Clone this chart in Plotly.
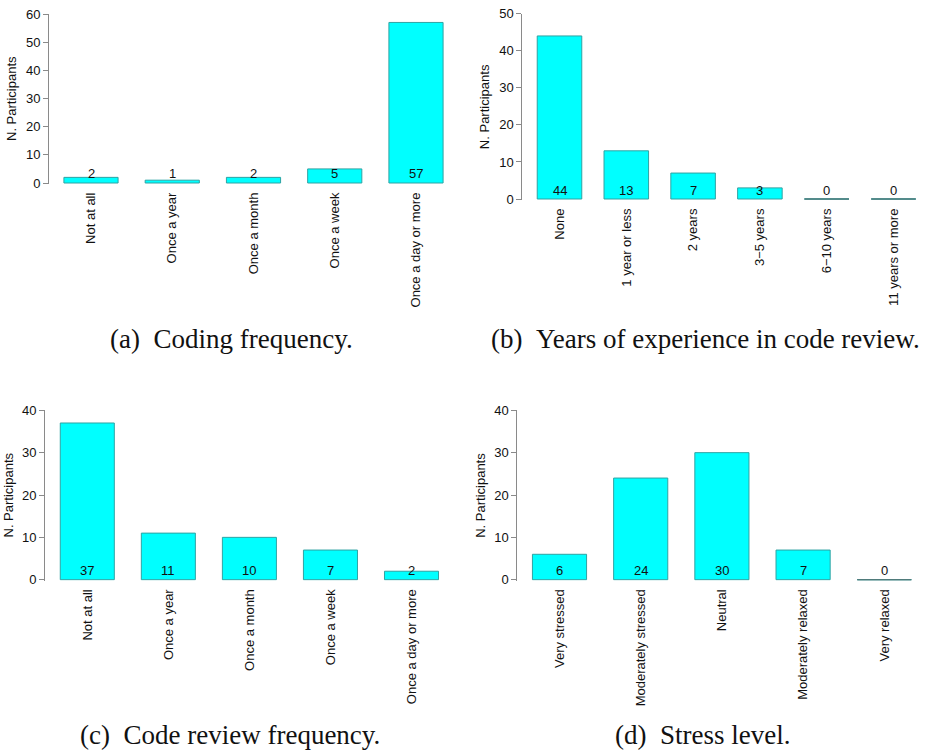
import plotly.graph_objects as go

# ---- survey data -------------------------------------------------------
coding_freq_labels = ["Not at all", "Once a year", "Once a month", "Once a week", "Once a day or more"]
coding_freq_counts = [2, 1, 2, 5, 57]

review_years_labels = ["None", "1 year or less", "2 years", "3\u22125 years", "6\u221210 years", "11 years or more"]
review_years_counts = [44, 13, 7, 3, 0, 0]

review_freq_labels = ["Not at all", "Once a year", "Once a month", "Once a week", "Once a day or more"]
review_freq_counts = [37, 11, 10, 7, 2]

stress_labels = ["Very stressed", "Moderately stressed", "Neutral", "Moderately relaxed", "Very relaxed"]
stress_counts = [6, 24, 30, 7, 0]

captions = [
    "(a)\u00a0\u00a0Coding frequency.",
    "(b)\u00a0\u00a0Years of experience in code review.",
    "(c)\u00a0\u00a0Code review frequency.",
    "(d)\u00a0\u00a0Stress level.",
]
y_max = [60, 50, 40, 40]

# ---- page geometry (pixels) -------------------------------------------
W, H = 932, 751
SANS = "Liberation Sans, Arial, Helvetica, sans-serif"
SERIF = "Liberation Serif, Times New Roman, serif"
BAR_W = 2 / 3
FILL = "#00FFFF"
EDGE = "#2fa3a3"
ZERO_EDGE = "#4f7b7b"
AXIS_GREY = "#8a8a8a"
TEXT = "#111111"

# per panel: y-axis x position, first bar centre, bar pitch, px of y=0, px of y=max
panels = [
    dict(left=49.0, c0=91.0, step=81.25, y0=183.0, ytop=14.0, cap=(231.7, 339)),
    dict(left=522.3, c0=559.5, step=66.8, y0=199.0, ytop=13.7, cap=(705.8, 339)),
    dict(left=45.0, c0=87.3, step=81.05, y0=579.7, ytop=410.3, cap=(230.0, 735)),
    dict(left=517.3, c0=559.5, step=81.2, y0=579.7, ytop=410.3, cap=(702.5, 735)),
]

datasets = [
    (coding_freq_labels, coding_freq_counts),
    (review_years_labels, review_years_counts),
    (review_freq_labels, review_freq_counts),
    (stress_labels, stress_counts),
]

fig = go.Figure()
layout = dict(
    template="none",
    width=W, height=H,
    margin=dict(l=0, r=0, t=0, b=0, pad=0, autoexpand=False),
    paper_bgcolor="white", plot_bgcolor="white",
    showlegend=False,
    font=dict(family=SANS, size=13, color=TEXT),
)
annotations = []

for k, ((labels, counts), p) in enumerate(zip(datasets, panels)):
    n = len(labels)
    idx = list(range(n))
    sfx = "" if k == 0 else str(k + 1)
    xa, ya = "x" + sfx, "y" + sfx

    # x: map pixels to category index space
    x_lo = (p["left"] - p["c0"]) / p["step"]
    x_hi = n - 0.5
    px_right = p["c0"] + x_hi * p["step"]
    # y: tiny margin below zero so bar bottoms are not clipped
    ppu = (p["y0"] - p["ytop"]) / y_max[k]
    y_lo = -1.0 / ppu
    px_bottom = p["y0"] + 1.0

    fig.add_trace(go.Bar(
        x=idx, y=counts, width=BAR_W,
        marker=dict(color=FILL, line=dict(color=EDGE, width=1)),
        xaxis=xa, yaxis=ya, hoverinfo="skip",
    ))
    # zero-count categories are drawn as a flat line at the baseline
    for i, v in zip(idx, counts):
        if v == 0:
            fig.add_trace(go.Scatter(
                x=[i - BAR_W / 2, i + BAR_W / 2], y=[v, v], mode="lines",
                line=dict(color=ZERO_EDGE, width=1.5),
                xaxis=xa, yaxis=ya, hoverinfo="skip",
            ))

    layout["xaxis" + sfx] = dict(
        domain=[p["left"] / W, px_right / W],
        range=[x_lo, x_hi],
        tickmode="array", tickvals=idx, ticktext=labels,
        tickangle=-90, ticks="", showline=False, showgrid=False, zeroline=False,
        ticklabelstandoff=5, automargin=False,
        tickfont=dict(family=SANS, size=13, color=TEXT),
        anchor=ya, fixedrange=True,
    )
    layout["yaxis" + sfx] = dict(
        domain=[1 - px_bottom / H, 1 - p["ytop"] / H],
        range=[y_lo, y_max[k]],
        tickmode="linear", tick0=0, dtick=10,
        ticks="outside", ticklen=5, tickwidth=1, tickcolor=AXIS_GREY,
        showline=True, linecolor=AXIS_GREY, linewidth=1,
        showgrid=False, zeroline=False, automargin=False,
        tickfont=dict(family=SANS, size=13, color=TEXT),
        anchor=xa, fixedrange=True,
    )

    # value labels near the bottom of each bar
    for i, v in zip(idx, counts):
        annotations.append(dict(
            x=i, y=0, xref=xa, yref=ya, text=str(v), showarrow=False,
            yanchor="middle", yshift=9, font=dict(family=SANS, size=13, color=TEXT),
        ))
    # y-axis title
    annotations.append(dict(
        x=0, y=0.5, xref=xa + " domain", yref=ya + " domain",
        text="N. Participants", textangle=-90, showarrow=False,
        xshift=-37, xanchor="center", yanchor="middle",
        font=dict(family=SANS, size=13, color=TEXT),
    ))
    # sub-figure caption
    cx, cy = p["cap"]
    annotations.append(dict(
        x=cx / W, y=1 - cy / H, xref="paper", yref="paper",
        text=captions[k], showarrow=False, xanchor="center", yanchor="middle",
        font=dict(family=SERIF, size=27, color=TEXT),
    ))

layout["annotations"] = annotations
fig.update_layout(**layout)
fig.write_html("out.html")
